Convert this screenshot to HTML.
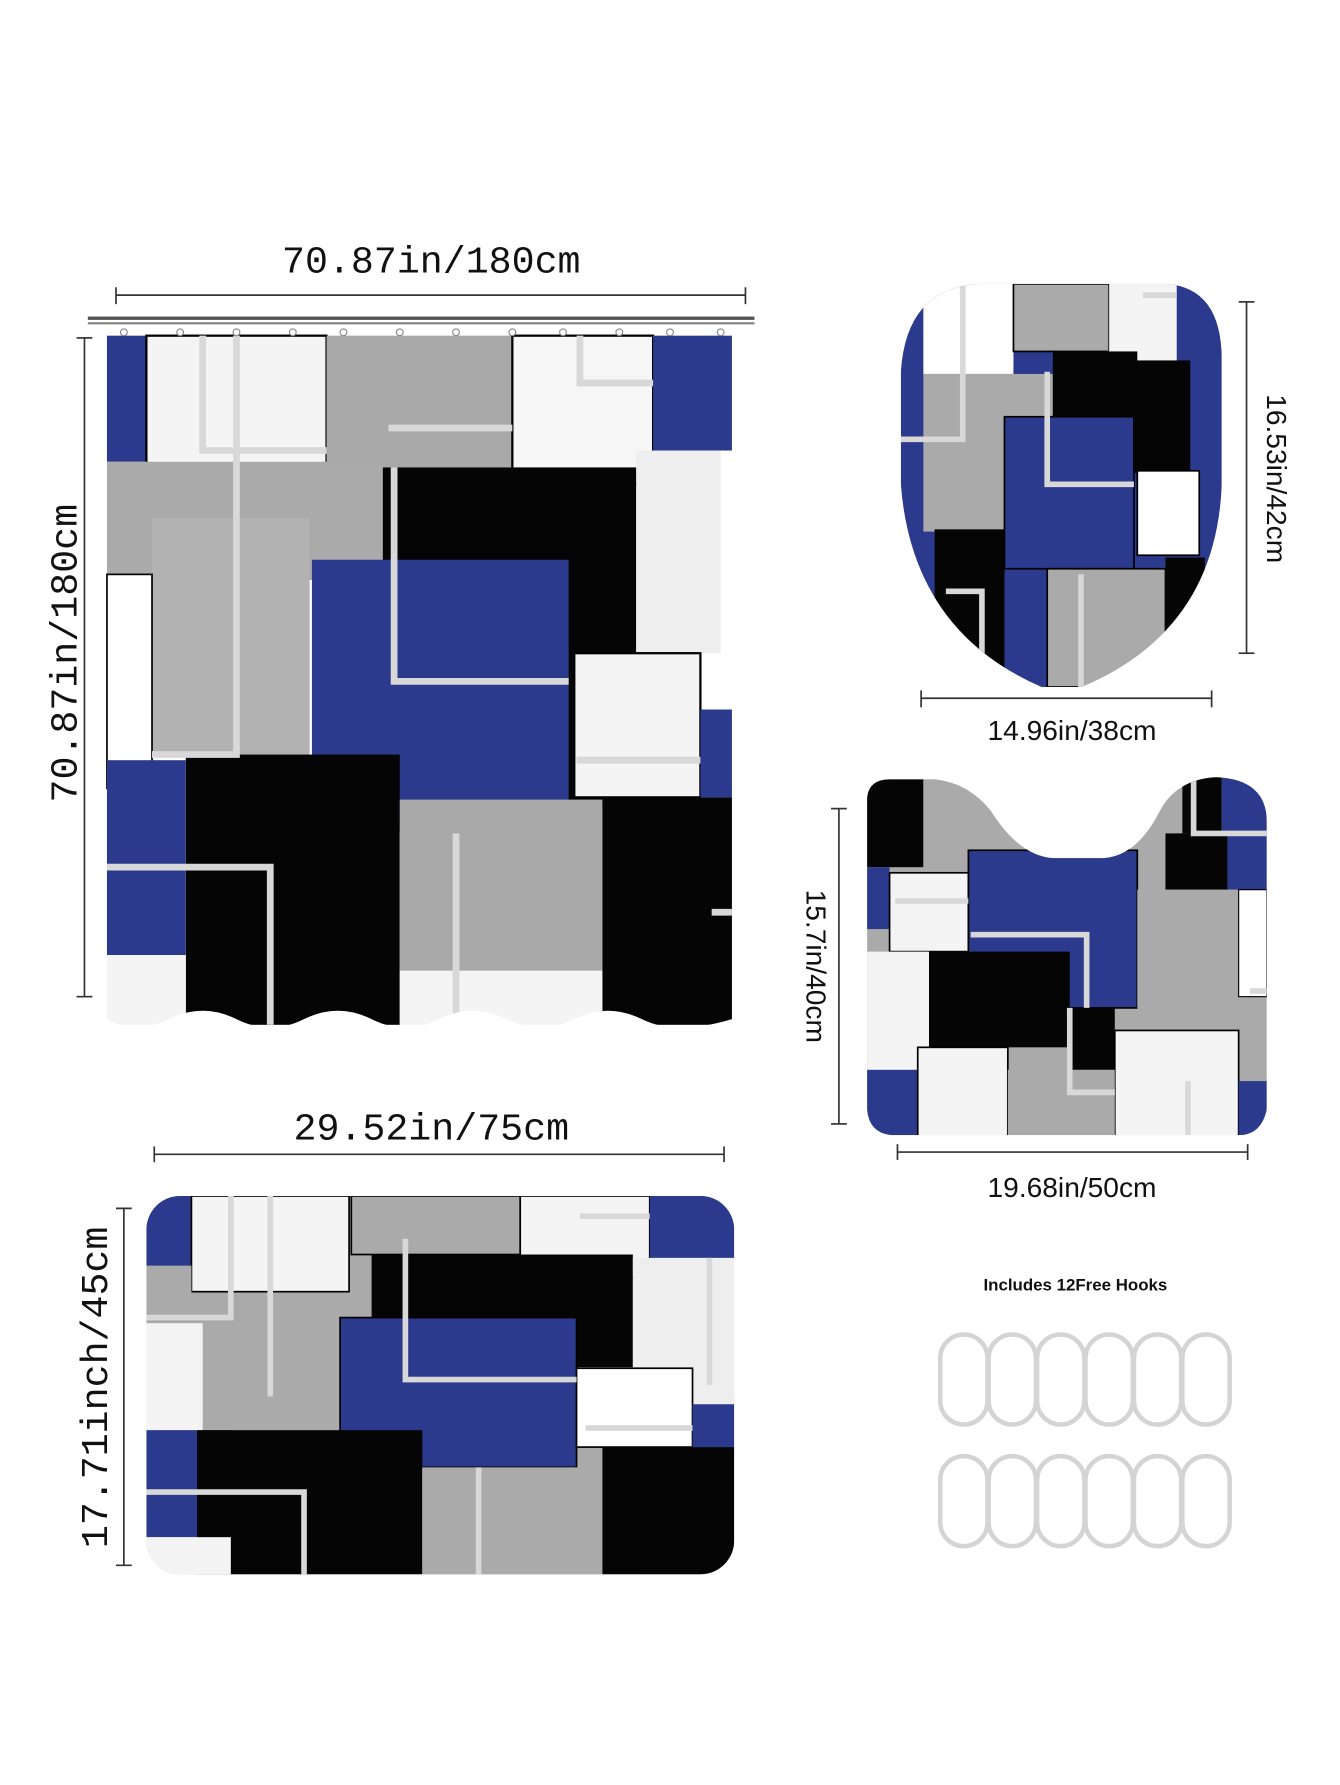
<!DOCTYPE html>
<html><head><meta charset="utf-8"><style>
html,body{margin:0;padding:0;background:#fff;}
svg{display:block;}
.ser{font-family:"Liberation Mono","DejaVu Sans Mono",monospace;font-size:34px;fill:#111;}
.san{font-family:"Liberation Sans",sans-serif;font-size:25px;fill:#111;}
</style></head><body>
<svg width="1340" height="1785" viewBox="0 0 1190 1585" xmlns="http://www.w3.org/2000/svg">
<rect width="1190" height="1585" fill="#fff"/>
<defs>
<clipPath id="lid"><path d="M800,330 Q805,255 870,252 L1035,252 Q1085,255 1085,320 L1085,430 Q1080,560 960,610 L925,610 Q810,560 800,430 Z"/></clipPath>
<clipPath id="con"><path d="M770,708 Q772,692 790,692 L830,692 Q860,695 880,720 Q905,760 935,762 L980,762 Q1010,760 1030,720 Q1045,692 1080,690 Q1125,692 1125,730 L1125,985 Q1120,1008 1100,1008 L795,1008 Q772,1008 770,985 Z"/></clipPath>
<clipPath id="mat"><rect x="130" y="1062" width="522" height="336" rx="30"/></clipPath>
</defs>

<!-- dimension lines -->
<g stroke="#333" stroke-width="1.5" fill="none">
<line x1="103" y1="262" x2="662" y2="262"/><line x1="103" y1="255" x2="103" y2="270"/><line x1="662" y1="255" x2="662" y2="270"/>
<line x1="75" y1="300" x2="75" y2="885"/><line x1="68" y1="300" x2="82" y2="300"/><line x1="68" y1="885" x2="82" y2="885"/>
<line x1="1107" y1="268" x2="1107" y2="580"/><line x1="1100" y1="268" x2="1114" y2="268"/><line x1="1100" y1="580" x2="1114" y2="580"/>
<line x1="818" y1="620" x2="1076" y2="620"/><line x1="818" y1="613" x2="818" y2="628"/><line x1="1076" y1="613" x2="1076" y2="628"/>
<line x1="745" y1="718" x2="745" y2="998"/><line x1="738" y1="718" x2="752" y2="718"/><line x1="738" y1="998" x2="752" y2="998"/>
<line x1="797" y1="1023" x2="1108" y2="1023"/><line x1="797" y1="1016" x2="797" y2="1030"/><line x1="1108" y1="1016" x2="1108" y2="1030"/>
<line x1="137" y1="1025" x2="643" y2="1025"/><line x1="137" y1="1018" x2="137" y2="1032"/><line x1="643" y1="1018" x2="643" y2="1032"/>
<line x1="110" y1="1073" x2="110" y2="1390"/><line x1="103" y1="1073" x2="117" y2="1073"/><line x1="103" y1="1390" x2="117" y2="1390"/>
</g>
<text class="ser" x="383" y="242" text-anchor="middle">70.87in/180cm</text>
<text class="ser" x="383" y="1012" text-anchor="middle">29.52in/75cm</text>
<text class="ser" transform="translate(68,580) rotate(-90)" text-anchor="middle">70.87in/180cm</text>
<text class="ser" transform="translate(95,1232) rotate(-90)" text-anchor="middle">17.71inch/45cm</text>
<text class="san" x="952" y="657" text-anchor="middle">14.96in/38cm</text>
<text class="san" x="952" y="1063" text-anchor="middle">19.68in/50cm</text>
<text class="san" transform="translate(1125,425) rotate(90)" text-anchor="middle">16.53in/42cm</text>
<text class="san" transform="translate(716,858) rotate(90)" text-anchor="middle">15.7in/40cm</text>

<!-- rod -->
<rect x="78" y="281" width="592" height="3" fill="#555"/><rect x="78" y="286" width="592" height="2" fill="#888"/>

<!-- curtain -->
<g>
<rect x="95" y="298" width="555" height="612" fill="#fff"/>
<rect x="95" y="298" width="35" height="112" fill="#2b3a8c"/>
<rect x="130" y="298" width="160" height="162" fill="#f4f4f4" stroke="#000" stroke-width="2"/>
<rect x="290" y="298" width="165" height="117" fill="#a9a9a9"/>
<rect x="455" y="298" width="125" height="132" fill="#f6f6f6" stroke="#000" stroke-width="2"/>
<rect x="580" y="298" width="70" height="102" fill="#2b3a8c"/>
<rect x="300" y="415" width="265" height="300" fill="#050505"/>
<rect x="565" y="400" width="75" height="180" fill="#eee"/>
<rect x="95" y="410" width="245" height="105" fill="#aaa"/>
<rect x="135" y="460" width="140" height="210" fill="#b2b2b2"/>
<rect x="95" y="510" width="40" height="190" fill="#fff" stroke="#000" stroke-width="1.5"/>
<rect x="277" y="497" width="228" height="241" fill="#2b3a8c"/>
<rect x="510" y="580" width="112" height="128" fill="#f4f4f4" stroke="#000" stroke-width="2"/>
<rect x="622" y="630" width="28" height="78" fill="#2b3a8c"/>
<rect x="165" y="670" width="190" height="240" fill="#050505"/>
<rect x="95" y="675" width="70" height="173" fill="#2b3a8c"/>
<rect x="355" y="710" width="180" height="152" fill="#a9a9a9"/>
<rect x="355" y="862" width="180" height="48" fill="#f4f4f4"/>
<rect x="535" y="708" width="115" height="202" fill="#050505"/>
<rect x="95" y="848" width="70" height="62" fill="#f4f4f4"/>
<g stroke="#d8d8d8" stroke-width="6" fill="none">
<path d="M180,298 V400 H290"/><path d="M210,298 V670 H135"/><path d="M350,415 V605 H505"/>
<path d="M345,380 H455"/><path d="M515,298 V340 H580"/><path d="M405,740 V910"/>
<path d="M95,770 H240 V910"/><path d="M512,675 H622"/><path d="M632,810 H650"/>
</g>
<path d="M95,905 Q120,920 150,905 T210,905 T270,905 T330,905 T390,905 T450,905 T510,905 T570,905 T650,905 V918 H95 Z" fill="#fff"/>
<g fill="#fff" stroke="#888" stroke-width="1"><circle cx="110" cy="295" r="3"/><circle cx="160" cy="295" r="3"/><circle cx="210" cy="295" r="3"/><circle cx="260" cy="295" r="3"/><circle cx="305" cy="295" r="3"/><circle cx="355" cy="295" r="3"/><circle cx="405" cy="295" r="3"/><circle cx="455" cy="295" r="3"/><circle cx="500" cy="295" r="3"/><circle cx="550" cy="295" r="3"/><circle cx="595" cy="295" r="3"/><circle cx="640" cy="295" r="3"/></g>
</g>

<!-- toilet lid -->
<g clip-path="url(#lid)">
<rect x="790" y="250" width="300" height="365" fill="#2b3a8c"/>
<rect x="820" y="252" width="80" height="80" fill="#fff"/>
<rect x="900" y="252" width="85" height="60" fill="#aaa" stroke="#000" stroke-width="1.5"/>
<rect x="985" y="252" width="60" height="70" fill="#f4f4f4"/>
<rect x="820" y="332" width="115" height="140" fill="#aaa"/>
<rect x="935" y="312" width="75" height="60" fill="#050505"/>
<rect x="892" y="370" width="115" height="135" fill="#2b3a8c" stroke="#000" stroke-width="1.5"/>
<rect x="1007" y="320" width="50" height="100" fill="#050505"/>
<rect x="1010" y="418" width="55" height="75" fill="#fff" stroke="#000" stroke-width="1.5"/>
<rect x="830" y="470" width="62" height="140" fill="#050505"/>
<rect x="930" y="505" width="105" height="105" fill="#aaa" stroke="#000" stroke-width="1.5"/>
<rect x="1035" y="495" width="35" height="120" fill="#050505"/>
<g stroke="#d8d8d8" stroke-width="5" fill="none"><path d="M855,252 V390 H790"/><path d="M930,330 V430 H1007"/><path d="M960,510 V615"/><path d="M840,525 H872 V615"/><path d="M1015,262 H1045"/></g>
</g>

<!-- contour mat -->
<g clip-path="url(#con)">
<rect x="770" y="688" width="360" height="325" fill="#aaa"/>
<rect x="770" y="690" width="50" height="80" fill="#050505"/>
<rect x="820" y="690" width="40" height="95" fill="#aaa"/>
<rect x="1050" y="690" width="35" height="50" fill="#050505"/>
<rect x="1085" y="690" width="40" height="100" fill="#2b3a8c"/>
<rect x="1035" y="740" width="55" height="50" fill="#050505"/>
<rect x="770" y="770" width="20" height="55" fill="#2b3a8c"/>
<rect x="790" y="775" width="70" height="70" fill="#f4f4f4" stroke="#000" stroke-width="1.5"/>
<rect x="860" y="755" width="150" height="140" fill="#2b3a8c" stroke="#000" stroke-width="1.5"/>
<rect x="1010" y="790" width="90" height="110" fill="#aaa"/>
<rect x="1100" y="790" width="25" height="95" fill="#fff" stroke="#000" stroke-width="1"/>
<rect x="770" y="845" width="55" height="105" fill="#f4f4f4"/>
<rect x="825" y="845" width="125" height="85" fill="#050505"/>
<rect x="950" y="895" width="40" height="55" fill="#050505"/>
<rect x="990" y="915" width="110" height="95" fill="#f4f4f4" stroke="#000" stroke-width="1.5"/>
<rect x="770" y="950" width="45" height="60" fill="#2b3a8c"/>
<rect x="815" y="930" width="80" height="80" fill="#f4f4f4" stroke="#000" stroke-width="1.5"/>
<rect x="895" y="950" width="95" height="60" fill="#aaa"/>
<rect x="1100" y="960" width="25" height="50" fill="#2b3a8c"/>
<g stroke="#d8d8d8" stroke-width="5" fill="none"><path d="M795,800 H860"/><path d="M862,830 H965 V895"/><path d="M950,895 V970 H990"/><path d="M1060,690 V740 H1125"/><path d="M1055,960 V1010"/><path d="M1110,880 H1125"/></g>
</g>

<!-- bath mat -->
<g clip-path="url(#mat)">
<rect x="130" y="1062" width="522" height="336" fill="#aaa"/>
<rect x="130" y="1062" width="40" height="62" fill="#2b3a8c"/>
<rect x="170" y="1062" width="140" height="85" fill="#f4f4f4" stroke="#000" stroke-width="1.5"/>
<rect x="312" y="1062" width="150" height="52" fill="#aaa" stroke="#000" stroke-width="1.5"/>
<rect x="462" y="1062" width="115" height="72" fill="#f4f4f4" stroke="#000" stroke-width="1.5"/>
<rect x="577" y="1062" width="75" height="55" fill="#2b3a8c"/>
<rect x="330" y="1114" width="232" height="100" fill="#050505"/>
<rect x="562" y="1117" width="90" height="130" fill="#eee"/>
<rect x="130" y="1124" width="40" height="50" fill="#aaa"/>
<rect x="130" y="1175" width="50" height="95" fill="#f4f4f4"/>
<rect x="302" y="1170" width="210" height="133" fill="#2b3a8c" stroke="#000" stroke-width="1.5"/>
<rect x="512" y="1215" width="103" height="70" fill="#fff" stroke="#000" stroke-width="1.5"/>
<rect x="615" y="1247" width="37" height="38" fill="#2b3a8c"/>
<rect x="130" y="1270" width="75" height="95" fill="#2b3a8c"/>
<rect x="175" y="1270" width="200" height="128" fill="#050505"/>
<rect x="375" y="1303" width="160" height="95" fill="#aaa"/>
<rect x="535" y="1285" width="117" height="113" fill="#050505"/>
<rect x="130" y="1365" width="75" height="35" fill="#f4f4f4"/>
<g stroke="#d8d8d8" stroke-width="5" fill="none"><path d="M205,1062 V1170 H130"/><path d="M240,1062 V1240"/><path d="M360,1100 V1225 H512"/><path d="M515,1080 H577"/><path d="M130,1325 H270 V1398"/><path d="M425,1303 V1398"/><path d="M630,1117 V1230"/><path d="M520,1268 H615"/></g>
</g>

<!-- hooks -->
<text x="955" y="1146" text-anchor="middle" font-family="Liberation Sans,sans-serif" font-weight="bold" font-size="15" fill="#111">Includes 12Free Hooks</text>
<g fill="none" stroke="#d4d4d4" stroke-width="4">
<rect x="835" y="1185" width="42" height="80" rx="21"/><rect x="878" y="1185" width="42" height="80" rx="21"/><rect x="921" y="1185" width="42" height="80" rx="21"/><rect x="964" y="1185" width="42" height="80" rx="21"/><rect x="1007" y="1185" width="42" height="80" rx="21"/><rect x="1050" y="1185" width="42" height="80" rx="21"/>
<rect x="835" y="1293" width="42" height="80" rx="21"/><rect x="878" y="1293" width="42" height="80" rx="21"/><rect x="921" y="1293" width="42" height="80" rx="21"/><rect x="964" y="1293" width="42" height="80" rx="21"/><rect x="1007" y="1293" width="42" height="80" rx="21"/><rect x="1050" y="1293" width="42" height="80" rx="21"/>
</g>
</svg>
</body></html>
